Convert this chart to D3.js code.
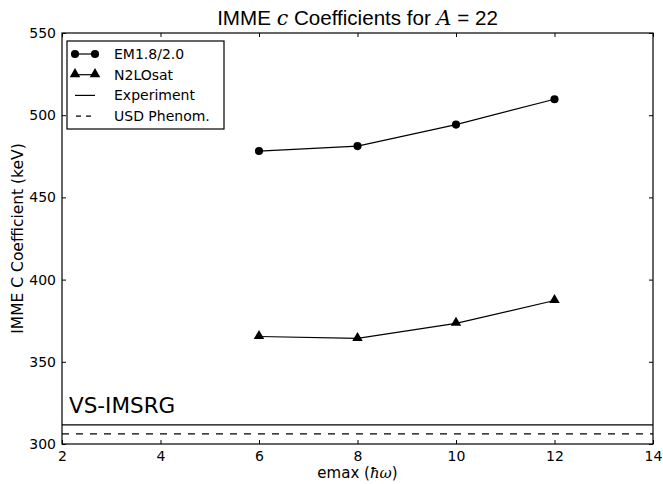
<!DOCTYPE html>
<html>
<head>
<meta charset="utf-8">
<script src="https://cdn.jsdelivr.net/npm/d3@7"></script>
<style>
  body { margin: 0; background: #fff; }
  text { font-family: "DejaVu Sans", sans-serif; }
</style>
</head>
<body>
<div id="chart"></div>
<script>
// emax values
var emax = [6, 8, 10, 12];
var em18 = [478.2, 481.2, 494.3, 509.7];
var n2losat = [365.4, 364.2, 373.4, 387.3];
var experiment = 311.6;
var usdPhenom = 306.1;
var xTicks = [2, 4, 6, 8, 10, 12, 14];
var yTicks = [300, 350, 400, 450, 500, 550];
var legendNames = ["EM1.8/2.0", "N2LOsat", "Experiment", "USD Phenom."];

var width = 663,
    height = 484,
    margin = {top: 33, right: 10, bottom: 40, left: 62};

var svg = d3.select("#chart")
    .append("svg")
    .attr("width", width)
    .attr("height", height);

var x = d3.scaleLinear()
    .domain([2, 14])
    .range([margin.left, width - margin.right]);

var y = d3.scaleLinear()
    .domain([300, 550])
    .range([height - margin.bottom, margin.top]);

// reference lines
svg.append("line")
    .attr("x1", x(2)).attr("x2", x(14))
    .attr("y1", y(experiment)).attr("y2", y(experiment))
    .attr("stroke", "#000").attr("stroke-width", 1.2);

svg.append("line")
    .attr("x1", x(2)).attr("x2", x(14))
    .attr("y1", y(usdPhenom)).attr("y2", y(usdPhenom))
    .attr("stroke", "#000").attr("stroke-width", 1.2)
    .attr("stroke-dasharray", "7,7");

var line = d3.line()
    .x(function (d) { return x(d[0]); })
    .y(function (d) { return y(d[1]); });

var s1 = d3.zip(emax, em18);
var s2 = d3.zip(emax, n2losat);

svg.append("path").attr("d", line(s1))
    .attr("fill", "none").attr("stroke", "#000").attr("stroke-width", 1.2);
svg.append("path").attr("d", line(s2))
    .attr("fill", "none").attr("stroke", "#000").attr("stroke-width", 1.2);

var circle = d3.symbol().type(d3.symbolCircle).size(52);
var tri = d3.symbol().type(d3.symbolTriangle).size(48);

svg.selectAll(".dot").data(s1).enter().append("path")
    .attr("d", circle)
    .attr("transform", function (d) { return "translate(" + x(d[0]) + "," + y(d[1]) + ")"; });

svg.selectAll(".tri").data(s2).enter().append("path")
    .attr("d", tri)
    .attr("transform", function (d) { return "translate(" + x(d[0]) + "," + (y(d[1]) - 0.5) + ")"; });

// axes, ticks inward on all sides
var plotW = width - margin.left - margin.right,
    plotH = height - margin.top - margin.bottom;

svg.append("g")
    .attr("transform", "translate(0," + (height - margin.bottom) + ")")
    .call(d3.axisBottom(x).tickValues(xTicks).tickSize(-4).tickPadding(7))
    .call(function (g) { g.select(".domain").remove(); g.selectAll("text").attr("font-size", 14).attr("font-family", "DejaVu Sans"); });

svg.append("g")
    .attr("transform", "translate(0," + margin.top + ")")
    .call(d3.axisTop(x).tickValues(xTicks).tickSize(-4).tickFormat(""))
    .call(function (g) { g.select(".domain").remove(); });

svg.append("g")
    .attr("transform", "translate(" + margin.left + ",0)")
    .call(d3.axisLeft(y).tickValues(yTicks).tickSize(-4).tickPadding(6))
    .call(function (g) { g.select(".domain").remove(); g.selectAll("text").attr("font-size", 14).attr("font-family", "DejaVu Sans"); });

svg.append("g")
    .attr("transform", "translate(" + (width - margin.right) + ",0)")
    .call(d3.axisRight(y).tickValues(yTicks).tickSize(-4).tickFormat(""))
    .call(function (g) { g.select(".domain").remove(); });

svg.selectAll(".tick line").attr("stroke", "#000");

svg.append("rect")
    .attr("x", margin.left).attr("y", margin.top)
    .attr("width", plotW).attr("height", plotH)
    .attr("fill", "none").attr("stroke", "#000").attr("stroke-width", 1.2);

// title
var title = svg.append("text")
    .attr("x", margin.left + plotW / 2).attr("y", 25)
    .attr("text-anchor", "middle").attr("font-size", 20.6)
    .style("font-family", "'Liberation Sans', Arial, sans-serif");
title.append("tspan").text("IMME ");
title.append("tspan").style("font-family", "'DejaVu Serif', serif").style("font-style", "italic").text("c");
title.append("tspan").text(" Coefficients for ");
title.append("tspan").style("font-family", "'DejaVu Serif', serif").style("font-style", "italic").text("A");
title.append("tspan").text(" = 22");

// axis labels
var xl = svg.append("text")
    .attr("x", margin.left + plotW / 2).attr("y", 478)
    .attr("text-anchor", "middle").attr("font-size", 15);
xl.append("tspan").text("emax (");
xl.append("tspan").style("font-family", "'DejaVu Serif', serif").style("font-style", "italic").text("ħω");
xl.append("tspan").text(")");

svg.append("text")
    .attr("transform", "translate(23," + (margin.top + plotH / 2) + ") rotate(-90)")
    .attr("text-anchor", "middle").attr("font-size", 15.5)
    .text("IMME C Coefficient (keV)");

svg.append("text")
    .attr("x", 69).attr("y", 413)
    .attr("font-size", 21.5)
    .text("VS-IMSRG");

// legend
var lg = svg.append("g").attr("transform", "translate(67,41)");
lg.append("rect")
    .attr("width", 157).attr("height", 88)
    .attr("fill", "#fff").attr("stroke", "#000").attr("stroke-width", 1.2);

legendNames.forEach(function (name, i) {
    var yy = 13 + i * 20.7;
    var ln = lg.append("line")
        .attr("x1", 8).attr("x2", 28).attr("y1", yy).attr("y2", yy)
        .attr("stroke", "#000").attr("stroke-width", 1.2);
    if (i === 3) ln.attr("stroke-dasharray", "5,5").attr("x1", 9).attr("x2", 29);
    if (i < 2) {
        [8, 28].forEach(function (mx) {
            lg.append("path")
                .attr("d", i === 0 ? circle : tri)
                .attr("transform", "translate(" + mx + "," + (i === 0 ? yy : yy - 0.5) + ")");
        });
    }
    lg.append("text")
        .attr("x", 47).attr("y", yy + 5)
        .attr("font-size", 14)
        .text(name);
});
</script>
</body>
</html>
